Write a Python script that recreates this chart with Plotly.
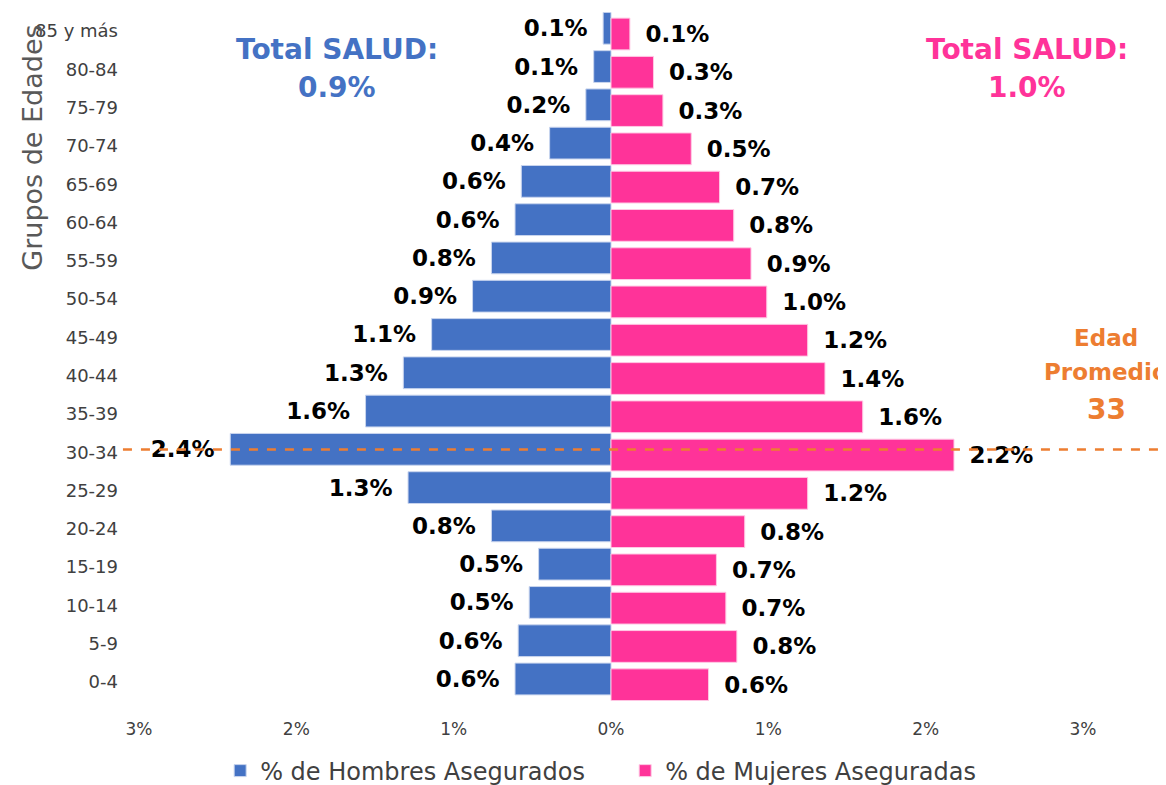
import plotly.graph_objects as go

age_groups = ["0-4", "5-9", "10-14", "15-19", "20-24", "25-29", "30-34", "35-39",
              "40-44", "45-49", "50-54", "55-59", "60-64", "65-69", "70-74",
              "75-79", "80-84", "85 y más"]
male_pct = [0.61, 0.59, 0.52, 0.46, 0.76, 1.29, 2.42, 1.56, 1.32, 1.14, 0.88,
            0.76, 0.61, 0.57, 0.39, 0.16, 0.11, 0.05]
female_pct = [0.62, 0.80, 0.73, 0.67, 0.85, 1.25, 2.18, 1.60, 1.36, 1.25, 0.99,
              0.89, 0.78, 0.69, 0.51, 0.33, 0.27, 0.12]
male_labels = ["0.6%", "0.6%", "0.5%", "0.5%", "0.8%", "1.3%", "2.4%", "1.6%", "1.3%",
               "1.1%", "0.9%", "0.8%", "0.6%", "0.6%", "0.4%", "0.2%", "0.1%", "0.1%"]
female_labels = ["0.6%", "0.8%", "0.7%", "0.7%", "0.8%", "1.2%", "2.2%", "1.6%", "1.4%",
                 "1.2%", "1.0%", "0.9%", "0.8%", "0.7%", "0.5%", "0.3%", "0.3%", "0.1%"]
x_tickvals = [-3, -2, -1, 0, 1, 2, 3]
x_ticktext = ["3%", "2%", "1%", "0%", "1%", "2%", "3%"]
avg_age_group = "30-34"
total_male = "0.9%"
total_female = "1.0%"
avg_age = "33"

BLUE = "#4472C4"
PINK = "#FF3399"
ORANGE = "#ED7D31"
FONT = "DejaVu Sans"
PAD = "\u00a0\u2009"

fig = go.Figure()
fig.add_trace(go.Bar(
    y=age_groups, x=[-v for v in male_pct], orientation="h",
    name="% de Hombres Asegurados", marker=dict(color=BLUE, line=dict(color="#C9D5EE", width=1)),
    text=[t + PAD for t in male_labels], textposition="outside", constraintext="none",
    cliponaxis=False,
    textfont=dict(family=FONT, size=23, color="#000000", weight="bold"),
    width=0.83, offset=-0.34,
))
fig.add_trace(go.Bar(
    y=age_groups, x=female_pct, orientation="h",
    name="% de Mujeres Aseguradas", marker=dict(color=PINK, line=dict(color="#FFC9E4", width=1)),
    text=[PAD + t for t in female_labels], textposition="outside", constraintext="none",
    cliponaxis=False,
    textfont=dict(family=FONT, size=23, color="#000000", weight="bold"),
    width=0.83, offset=-0.49,
))

yi = age_groups.index(avg_age_group) + 0.07
fig.add_shape(type="line", xref="paper", yref="y", x0=-0.017, x1=1.2, y0=yi, y1=yi,
              line=dict(color=ORANGE, width=2.5, dash="dash"), layer="above")

def note(x, y, text, size, color, bold=True):
    fig.add_annotation(xref="paper", yref="paper", x=x, y=y, xanchor="center", yanchor="middle",
                       text=f"<b>{text}</b>" if bold else text, showarrow=False,
                       font=dict(family=FONT, size=size, color=color))

note(0.2097, 0.9454, "Total SALUD:", 28, BLUE)
note(0.2097, 0.890, total_male, 28, BLUE)
note(0.9407, 0.9454, "Total SALUD:", 28, PINK)
note(0.9407, 0.890, total_female, 28, PINK)
note(1.0244, 0.5269, "Edad", 23, ORANGE)
note(1.0244, 0.4775, "Promedio", 23, ORANGE)
note(1.0244, 0.4224, avg_age, 28, ORANGE)
fig.add_annotation(xref="paper", yref="paper", x=-0.1123, y=0.803, xanchor="center", yanchor="middle",
                   text="Grupos de Edades", textangle=-90, showarrow=False,
                   font=dict(family=FONT, size=27, color="#595959"))

fig.update_layout(
    width=1166, height=785, barmode="overlay",
    plot_bgcolor="white", paper_bgcolor="white",
    margin=dict(l=131, r=91, t=4, b=92),
    font=dict(family=FONT, color="#404040"),
    legend=dict(orientation="h", x=0.515, xanchor="center", y=0.028, yanchor="middle",
                yref="container", entrywidth=360, entrywidthmode="pixels",
                font=dict(family=FONT, size=24, color="#404040"), traceorder="normal"),
    xaxis=dict(range=[-3, 3], tickvals=x_tickvals, ticktext=x_ticktext, showgrid=False,
               zeroline=False, showline=False, ticks="", ticklabelstandoff=16,
               tickfont=dict(family=FONT, size=17, color="#404040")),
    yaxis=dict(range=[-0.5, 17.5], showgrid=False, zeroline=False, showline=False,
               ticks="", ticklabelstandoff=20, categoryorder="array", categoryarray=age_groups,
               tickfont=dict(family=FONT, size=18, color="#404040")),
    showlegend=True,
)

fig.write_html("out.html")
